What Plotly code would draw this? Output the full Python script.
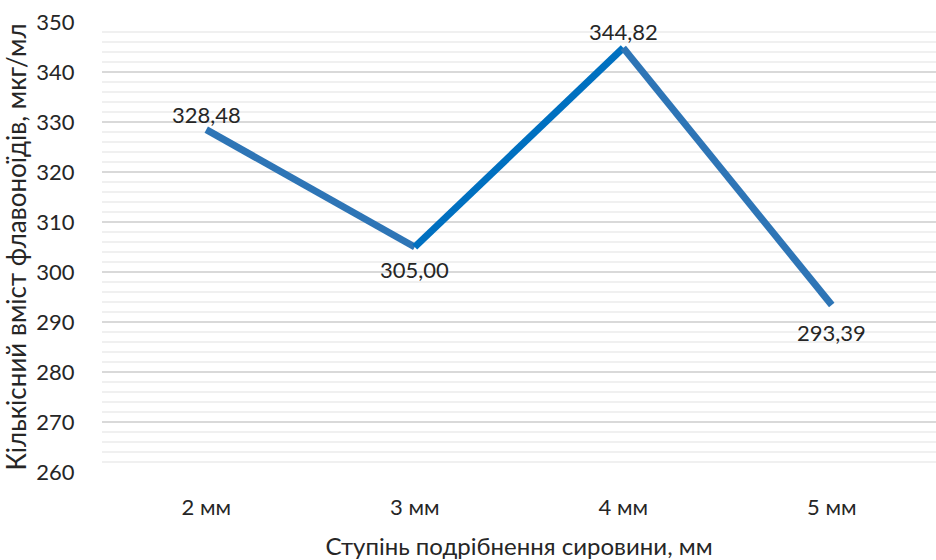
import plotly.graph_objects as go

categories = ["2 мм", "3 мм", "4 мм", "5 мм"]
values = [328.48, 305.00, 344.82, 293.39]
labels = ["328,48", "305,00", "344,82", "293,39"]
label_shift = [15, -22, 16, -27]
segment_colors = ["#2E75B6", "#0070C0", "#2E75B6"]

FONT = "Lato, 'Noto Sans', sans-serif"
TXT = "#262626"

fig = go.Figure()
for i in range(len(values) - 1):
    fig.add_trace(go.Scatter(
        x=categories[i:i + 2], y=values[i:i + 2], mode="lines",
        line=dict(color=segment_colors[i], width=7),
        hoverinfo="skip", showlegend=False,
    ))

for c, v, t, s in zip(categories, values, labels, label_shift):
    fig.add_annotation(
        x=c, y=v, text=t, showarrow=False, yshift=s,
        xanchor="center", yanchor="middle",
        font=dict(family=FONT, size=22, color=TXT),
    )

fig.update_layout(
    width=936, height=560,
    margin=dict(l=102, r=0, t=22, b=88),
    paper_bgcolor="white", plot_bgcolor="white",
    font=dict(family=FONT, size=22, color=TXT),
    xaxis=dict(
        type="category", range=[-0.5, 3.5],
        showgrid=False, zeroline=False, showline=False,
        ticks="outside", ticklen=16, tickcolor="rgba(0,0,0,0)",
        tickfont=dict(family=FONT, size=22, color=TXT),
        title=dict(text="Ступінь подрібнення сировини, мм",
                   font=dict(family=FONT, size=24, color=TXT), standoff=20),
    ),
    yaxis=dict(
        range=[260, 350], dtick=10, tick0=260,
        showgrid=True, gridcolor="#D9D9D9", gridwidth=1.5,
        minor=dict(dtick=2, showgrid=True, gridcolor="#F0F0F0", gridwidth=1.5),
        zeroline=False, showline=False,
        ticks="outside", ticklen=22, tickcolor="rgba(0,0,0,0)",
        tickfont=dict(family=FONT, size=22, color=TXT),
        title=dict(text="Кількісний вміст флавоноїдів, мкг/мл",
                   font=dict(family=FONT, size=26, color=TXT), standoff=4),
    ),
)

fig.write_html("out.html")
